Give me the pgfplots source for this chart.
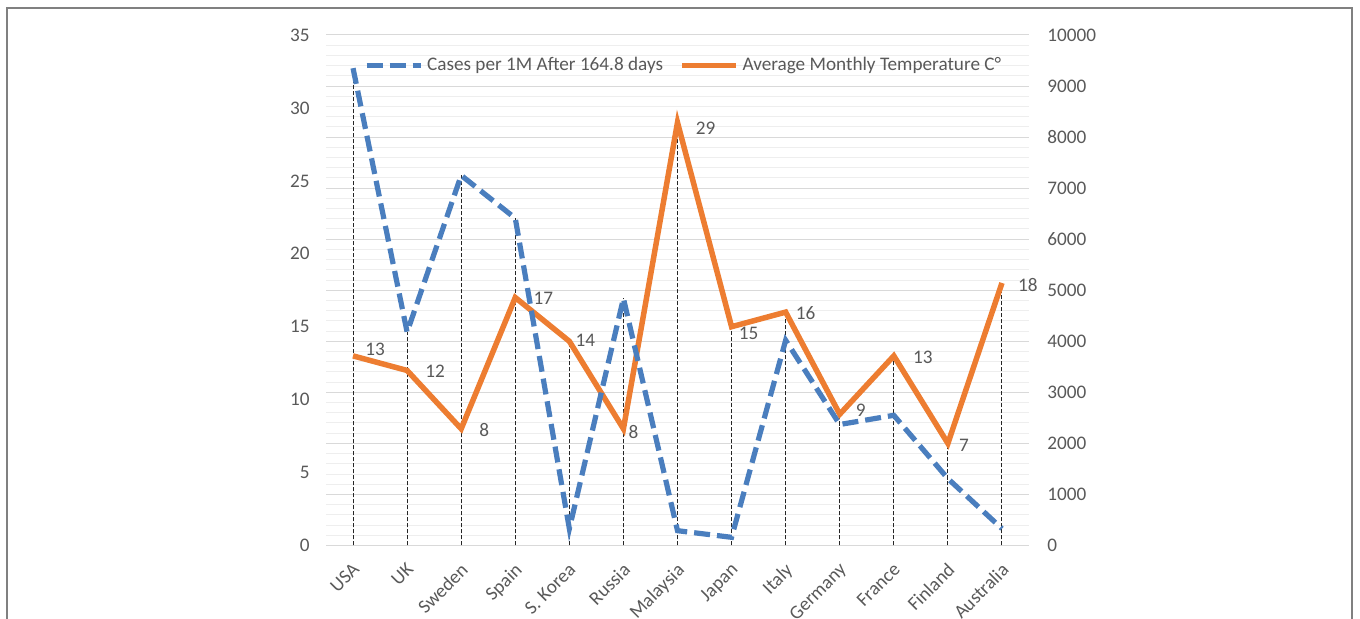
\documentclass[border=0pt]{standalone}
\usepackage{pgfplots}
\usepackage{pgfplotstable}
\pgfplotsset{compat=1.18}
\usepackage{fontspec}
\setmainfont{Carlito}
\definecolor{txt}{RGB}{89,89,89}
\definecolor{cblue}{RGB}{74,126,190}
\definecolor{corange}{RGB}{237,125,49}
\definecolor{gmaj}{RGB}{217,217,217}
\definecolor{gmin}{RGB}{238,238,238}
\definecolor{framec}{RGB}{128,128,128}

\pgfplotstableread{
x t dx dy
0 13 11 3.3
1 12 14 -0.5
2 8 11.5 -0.8
3 17 14 -0.3
4 14 8 0.5
5 8 5 -1.8
6 29 14 -2.8
7 15 8.5 -3.3
8 16 10 -0.5
9 9 10.5 2
10 13 14.5 -0.7
11 7 8 -1
12 18 13 -1.2
}\temps

\pgfplotstableread{
x c
0 9350
1 4180
2 7250
3 6410
4 330
5 4840
6 290
7 160
8 4020
9 2370
10 2550
11 1310
12 330
}\cases

\newcommand{\ff}{\fontsize{9.6}{11.5}\selectfont}

\pgfplotsset{
  base/.style={
    scale only axis, width=351.5pt, height=255.25pt,
    at={(163pt,36.75pt)}, anchor=south west,
    xmin=-0.5, xmax=12.5,
    axis line style={draw=none}, tick style={draw=none},
    major tick length=0pt, minor tick length=0pt,
    scaled y ticks=false,
    /pgf/number format/assume math mode=true,
    /pgf/number format/1000 sep={},
    tick label style={font=\ff, text=txt},
  },
}

\begin{document}
\ff
\begin{tikzpicture}
\useasboundingbox (0,0) rectangle (680pt,309.5pt);
\draw[framec, line width=0.75pt] (3.5pt,-2pt) -- (3.5pt,305.5pt) -- (676pt,305.5pt) -- (676pt,-2pt);

% Axis A: right scale, grid, drop lines of cases
\begin{axis}[base,
  ymin=0, ymax=10000,
  axis y line*=right, axis x line*=bottom,
  ytick distance=1000, minor y tick num=4,
  ymajorgrids, yminorgrids,
  major grid style={gmaj, line width=0.5pt},
  minor grid style={gmin, line width=0.5pt},
  xtick={0,...,12},
  xticklabels={USA,UK,Sweden,Spain,S. Korea,Russia,Malaysia,Japan,Italy,Germany,France,Finland,Australia},
  xticklabel style={xshift=-0.75pt, yshift=-8pt, rotate=45, anchor=north east, inner sep=0pt},
  yticklabel style={anchor=west, inner sep=0pt, xshift=9pt},
]
\addplot[ycomb, black!85, line width=0.5pt, dash pattern=on 2pt off 1pt] table[x=x,y=c]{\cases};
\end{axis}

% Axis B: left scale, temperature
\begin{axis}[base,
  ymin=0, ymax=35,
  axis y line*=left, hide x axis,
  ytick distance=5,
  yticklabel style={anchor=east, inner sep=0pt, xshift=-8pt},
]
\addplot[ycomb, black!85, line width=0.5pt, dash pattern=on 2pt off 1pt] table[x=x,y=t]{\temps};
\addplot[corange, line width=2.75pt,
  nodes near coords,
  visualization depends on={\thisrow{dx}\as\dx},
  visualization depends on={\thisrow{dy}\as\dy},
  every node near coord/.append style={anchor=center, xshift=\dx pt, yshift=\dy pt, text=txt, font=\ff, inner sep=0pt},
] table[x=x,y=t]{\temps};
\end{axis}

% Axis C: right scale, cases line and legend
\begin{axis}[base,
  ymin=0, ymax=10000,
  hide axis,
  legend image code/.code={\draw[#1] (0pt,0pt) -- (27pt,0pt);},
  legend style={at={(0.51,0.94)}, anchor=center, draw=none, fill=none,
    legend columns=2, font=\ff, text=txt,
    /tikz/every even column/.append style={column sep=6pt}},
]
\addplot[cblue, line width=2.6pt, dash pattern=on 8pt off 3.5pt] table[x=x,y=c]{\cases};
\addlegendentry{Cases per 1M After 164.8 days}
\addlegendimage{corange, line width=2.75pt}
\addlegendentry{Average Monthly Temperature C°}
\end{axis}
\end{tikzpicture}
\end{document}
